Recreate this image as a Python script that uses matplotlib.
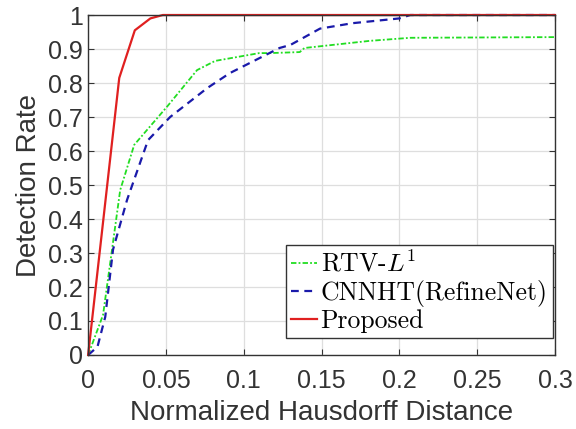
import matplotlib
matplotlib.use('Agg')
import matplotlib.pyplot as plt

plt.rcParams['font.family'] = ['Liberation Sans', 'DejaVu Sans']
plt.rcParams['mathtext.fontset'] = 'cm'

# curves
rtv_x = [0, 0.0096, 0.0206, 0.0296, 0.051, 0.070, 0.0816, 0.089, 0.11, 0.117, 0.136, 0.139, 0.181, 0.207, 0.3]
rtv_y = [0, 0.118, 0.485, 0.618, 0.732, 0.838, 0.865, 0.871, 0.888, 0.888, 0.891, 0.903, 0.924, 0.933, 0.935]

cnn_x = [0, 0.006, 0.011, 0.016, 0.025, 0.0385, 0.0527, 0.0765, 0.091, 0.11, 0.123, 0.13, 0.149, 0.17, 0.20, 0.207, 0.3]
cnn_y = [0, 0.024, 0.112, 0.31, 0.456, 0.632, 0.70, 0.785, 0.829, 0.873, 0.903, 0.912, 0.96, 0.976, 0.99, 1.0, 1.0]

prop_x = [0, 0.02, 0.03, 0.04, 0.048, 0.3]
prop_y = [0, 0.815, 0.955, 0.99, 1.0, 1.0]

labels = [r'RTV-$L^1$', 'CNNHT(RefineNet)', 'Proposed']
xticks = [0, 0.05, 0.1, 0.15, 0.2, 0.25, 0.3]
xtick_labels = ['0', '0.05', '0.1', '0.15', '0.2', '0.25', '0.3']
yticks = [0, 0.1, 0.2, 0.3, 0.4, 0.5, 0.6, 0.7, 0.8, 0.9, 1.0]
ytick_labels = ['0', '0.1', '0.2', '0.3', '0.4', '0.5', '0.6', '0.7', '0.8', '0.9', '1']

fig = plt.figure(figsize=(5.76, 4.29), dpi=100)
ax = fig.add_axes([0.153, 0.1725, 0.8105, 0.7925])

ax.plot(rtv_x, rtv_y, color='#22dd22', lw=1.3, linestyle=(0, (3, 1.2, 1, 1.2)),
        label=labels[0], clip_on=False)
ax.plot(cnn_x, cnn_y, color='#1a1aaa', lw=1.6, linestyle=(0, (3.5, 2.5)),
        label=labels[1], clip_on=False)
ax.plot(prop_x, prop_y, color='#e02020', lw=1.6, label=labels[2], clip_on=False)

ax.set_xlim(0, 0.3)
ax.set_ylim(0, 1)
ax.set_xticks(xticks)
ax.set_xticklabels(xtick_labels)
ax.set_yticks(yticks)
ax.set_yticklabels(ytick_labels)
ax.tick_params(direction='in', top=True, right=True, labelsize=18, length=4,
               color='#333333', labelcolor='#333333', pad=4)
ax.tick_params(axis='x', pad=10)
ax.grid(True, color='#dedede', lw=0.9)
ax.set_axisbelow(True)
for s in ax.spines.values():
    s.set_color('#333333')
    s.set_linewidth(1.0)

ax.set_xlabel('Normalized Hausdorff Distance', fontsize=20, color='#333333', labelpad=5)
ax.set_ylabel('Detection Rate', fontsize=20, color='#333333', labelpad=4)

leg = ax.legend(loc='lower right', bbox_to_anchor=(0.995, 0.05),
                prop={'family': 'cmr10', 'size': 18.5},
                fancybox=False, edgecolor='#333333', framealpha=1, handlelength=1.0,
                handletextpad=0.15, borderpad=0.2, labelspacing=0.1, borderaxespad=0)
leg.get_frame().set_linewidth(1.0)

fig.savefig('out.png', dpi=100)
